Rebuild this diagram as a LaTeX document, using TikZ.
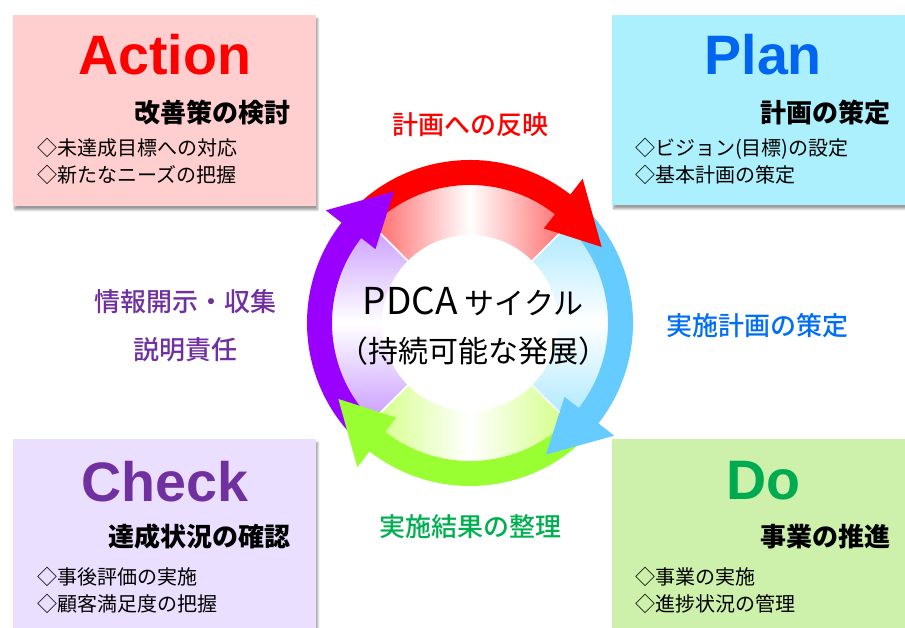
\documentclass[tikz,border=0pt]{standalone}
\usepackage{fontspec}
\setmainfont{Noto Sans CJK JP}
\newfontfamily\titlefont{Liberation Sans}
\newfontfamily\medfont{Noto Sans CJK JP Medium}
\usetikzlibrary{positioning,shadows.blur}

\definecolor{actfill}{RGB}{255,207,207}
\definecolor{planfill}{RGB}{172,240,254}
\definecolor{checkfill}{RGB}{235,223,255}
\definecolor{dofill}{RGB}{205,240,170}
\definecolor{actred}{RGB}{255,0,0}
\definecolor{planblue}{RGB}{0,102,240}
\definecolor{checkpurple}{RGB}{112,48,160}
\definecolor{dogreen}{RGB}{0,170,80}
\definecolor{redband}{RGB}{255,0,0}
\definecolor{blueband}{RGB}{102,204,255}
\definecolor{greenband}{RGB}{153,255,51}
\definecolor{purpleband}{RGB}{153,0,255}
\definecolor{redlt}{RGB}{255,100,100}
\definecolor{bluelt}{RGB}{170,232,255}
\definecolor{greenlt}{RGB}{210,255,130}
\definecolor{purplelt}{RGB}{200,155,255}
\definecolor{lblblue}{RGB}{0,110,245}
\definecolor{lblgreen}{RGB}{0,176,80}

\begin{document}
\begin{tikzpicture}[
    x=1pt, y=1pt,
    box/.style={inner sep=0pt, anchor=south west,
      blur shadow={shadow xshift=1.5pt, shadow yshift=-4pt, shadow blur steps=6, shadow opacity=40}},
    title/.style={inner sep=0pt, anchor=base, font=\titlefont\bfseries\fontsize{55.6}{60}\selectfont},
    subtitle/.style={inner sep=0pt, anchor=east, font=\bfseries\fontsize{26}{30}\selectfont},
    items/.style={inner sep=0pt, anchor=west, align=left, font=\fontsize{20}{27}\selectfont},
    cyclelabel/.style={inner sep=0pt, align=center, font=\medfont\fontsize{26}{48}\selectfont}
]
\useasboundingbox (0,0) rectangle (905,628);

% four boxes
\node[box, fill=actfill, minimum width=303pt, minimum height=191pt] (act) at (13,422) {};
\node[box, fill=planfill, minimum width=298pt, minimum height=190pt] (plan) at (612,423) {};
\node[box, fill=checkfill, minimum width=303pt, minimum height=194pt] (check) at (13,-5) {};
\node[box, fill=dofill, minimum width=298pt, minimum height=194pt] (do) at (612,-5) {};

\node[title, text=actred] (acttitle) at ([yshift=-60pt]act.north) {Action};
\node[subtitle] (actsub) at ([xshift=-26pt, yshift=-98pt]act.north east) {改善策の検討};
\node[items] (actitems) at ([xshift=24pt, yshift=-146.5pt]act.north west) {◇未達成目標への対応\\◇新たなニーズの把握};

\node[title, text=planblue] (plantitle) at ([xshift=2pt, yshift=-60pt]plan.north) {Plan};
\node[subtitle] (plansub) at ([xshift=-20pt, yshift=-98pt]plan.north east) {計画の策定};
\node[items] (planitems) at ([xshift=23pt, yshift=-146.5pt]plan.north west) {◇ビジョン(目標)の設定\\◇基本計画の策定};

\node[title, text=checkpurple] (checktitle) at ([yshift=-63pt]check.north) {Check};
\node[subtitle] (checksub) at ([xshift=-26pt, yshift=-98pt]check.north east) {達成状況の確認};
\node[items] (checkitems) at ([xshift=24pt, yshift=-151.5pt]check.north west) {◇事後評価の実施\\◇顧客満足度の把握};

\node[title, text=dogreen] (dotitle) at ([xshift=2pt, yshift=-61pt]do.north) {Do};
\node[subtitle] (dosub) at ([xshift=-20pt, yshift=-98pt]do.north east) {事業の推進};
\node[items] (doitems) at ([xshift=23pt, yshift=-151.5pt]do.north west) {◇事業の実施\\◇進捗状況の管理};

% the cycle
\coordinate (cyc) at (470,305);
\begin{scope}[shift={(cyc)}]
  \foreach \ang/\col in {90/redlt, 0/bluelt, 270/greenlt, 180/purplelt}
    \shade[left color=\col, right color=\col, middle color=white, shading angle=\ang]
      (\ang-45:88) arc[start angle=\ang-45, end angle=\ang+45, radius=88]
      -- (\ang+45:140) arc[start angle=\ang+45, end angle=\ang-45, radius=140] -- cycle;
  \foreach \ang in {45,135,225,315}
    \draw[white, line width=1.5pt] (\ang:86) -- (\ang:140);
  \foreach \ang/\col in {90/redband, 0/blueband, 270/greenband, 180/purpleband}
    \fill[\col] (\ang+50:163) arc[start angle=\ang+50, end angle=\ang-40, radius=163]
      -- (\ang-40:138) arc[start angle=\ang-40, end angle=\ang+50, radius=138] -- cycle;
  \foreach \ang/\col in {90/redband, 0/blueband, 270/greenband, 180/purpleband}
    \fill[\col] (\ang-38:120) -- (\ang-38:183) -- (\ang-60:152) -- cycle;
\end{scope}

\node[align=center, inner sep=0pt, font=\fontsize{30}{48}\selectfont] (center) at ([xshift=3pt, yshift=-3pt]cyc)
  {{\fontsize{37}{48}\selectfont PDCA} サイクル\\（持続可能な発展）};

% labels round the cycle
\node[cyclelabel, text=actred] (toplbl) at ([yshift=198pt]cyc) {計画への反映};
\node[cyclelabel, text=lblblue] (rightlbl) at ([xshift=287pt, yshift=-3pt]cyc) {実施計画の策定};
\node[cyclelabel, text=lblgreen] (bottomlbl) at ([yshift=-204pt]cyc) {実施結果の整理};
\node[cyclelabel, text=checkpurple] (leftlbl) at ([xshift=-285pt, yshift=-3pt]cyc) {情報開示・収集\\説明責任};
\end{tikzpicture}
\end{document}
